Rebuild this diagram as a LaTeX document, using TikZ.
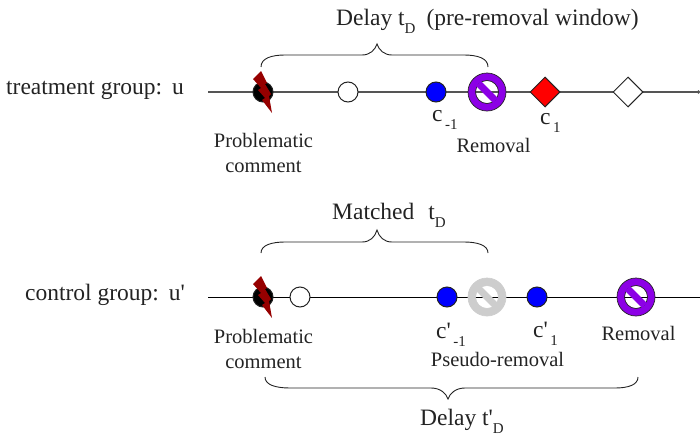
\documentclass[tikz,border=0pt]{standalone}
\usepackage{fontspec}
\setmainfont{Liberation Serif}
\usetikzlibrary{shapes.geometric,arrows.meta}
\definecolor{prohib}{RGB}{140,0,230}
\definecolor{pseudo}{RGB}{205,205,205}
\definecolor{bolt}{RGB}{150,0,0}
\definecolor{ink}{RGB}{35,35,35}
\definecolor{linegray}{RGB}{85,85,85}
\tikzset{
  x=1pt,y=-1pt,
  lbl/.style={font=\fontsize{20.5}{25}\selectfont,text=ink,inner sep=0pt,align=center},
  base/.style={font=\fontsize{20.5}{25}\selectfont,text=ink,inner sep=0pt,anchor=base},
  sm/.style={font=\fontsize{23.5}{26}\selectfont,text=ink,inner sep=0pt,anchor=base west},
  tl/.style={line width=1.3pt,draw=linegray},
  tlb/.style={line width=1pt,draw=black},
  dot/.style={circle,draw=ink,line width=1pt,minimum size=20pt,inner sep=0pt},
  dia/.style={diamond,draw=ink,line width=1pt,minimum size=30pt,inner sep=0pt},
  brc/.style={draw=ink,line width=0.9pt},
}
\newcommand{\sbs}[1]{\raisebox{-8pt}{\fontsize{15}{15}\selectfont #1}}
\newcommand{\nosign}[4]{% name, position, colour, outline
  \node[circle,minimum size=39pt,inner sep=0pt] (#1) at (#2) {};
  \begin{scope}[shift={(#2)}]
    \filldraw[fill=#3,draw=#4,line width=0.7pt,even odd rule] (0,0) circle[radius=19pt] (0,0) circle[radius=11.5pt];
    \fill[#3,rotate=-45] (-12pt,-3.5pt) rectangle (12pt,3.5pt);
  \end{scope}
}
\newcommand{\boltsign}[1]{%
  \fill[bolt,shift={(#1)}] (-2,-21) -- (-10,-13) -- (-2,-4) -- (-5,-2) -- (2,6) -- (-1,8) -- (9,21) -- (6,4) -- (8,2) -- (2,-8) -- (4,-9) -- cycle;
}
\begin{document}
\begin{tikzpicture}
\useasboundingbox (0,0) rectangle (700,436);
% treatment
\node[sm] (tg) at (6,94) {treatment group:\hspace{10pt}u};
\coordinate (a0) at (208,92); \coordinate (a1) at (700,92);
\draw[tl,-{Circle[length=3pt]}] (a0) -- (a1);
\node[dot,fill=black] (ap) at (263,92) {};
\boltsign{ap}
\node[dot,fill=white] (aw) at (348,92) {};
\node[dot,fill=blue] (ab) at (436,92) {};
\nosign{ar}{487,92}{prohib}{ink}
\node[dia,fill=red] (ad) at (545,92) {};
\node[dia,fill=white] (ae) at (628,92) {};
\node[lbl] (apl) at (263.5,153) {Problematic\\comment};
\node[sm] (acm) at (432,121) {c\sbs{\,-1}};
\node[base] (arl) at (493.5,152) {Removal};
\node[sm] (acp) at (540,124) {c\sbs{\,1}};
\node[sm] (atop) at (336,26) {Delay t\sbs{D}\hspace{11pt}(pre-removal window)};
\coordinate (b1l) at (261,67); \coordinate (b1t) at (377,44); \coordinate (b1r) at (488,67);
\draw[brc] (b1l) .. controls (261,58) and (272,55) .. (285,55) -- (362,55) .. controls (370,55) and (375,50) .. (b1t) .. controls (379,50) and (384,55) .. (392,55) -- (464,55) .. controls (477,55) and (488,58) .. (b1r);
% control
\node[sm] (cg) at (25,300) {control group:\hspace{10pt}u\textquotesingle};
\coordinate (c0) at (208,297); \coordinate (c1) at (700,297);
\draw[tlb] (c0) -- (c1);
\node[dot,fill=black] (cp) at (263,297) {};
\boltsign{cp}
\node[dot,fill=white] (cw) at (300,297) {};
\node[dot,fill=blue] (cb) at (447,297) {};
\nosign{cs}{487,297}{pseudo}{pseudo}
\node[dot,fill=blue] (cc) at (537,297) {};
\nosign{cr}{636,297}{prohib}{ink}
\node[lbl] (cpl) at (263.5,349) {Problematic\\comment};
\node[sm] (ccm) at (436,338) {c\textquotesingle\sbs{\,-1}};
\node[base] (csl) at (497.5,366) {Pseudo-removal};
\node[sm] (ccp) at (533,337) {c\textquotesingle\sbs{\,1}};
\node[base] (crl) at (638.5,340) {Removal};
\node[sm] (cmt) at (332,219) {Matched\hspace{14pt}t\sbs{D}};
\node[sm] (cdl) at (420,425) {Delay t\textquotesingle\sbs{D}};
\coordinate (b2l) at (261,253); \coordinate (b2t) at (377,230); \coordinate (b2r) at (488,253);
\draw[brc] (b2l) .. controls (261,245) and (272,242) .. (285,242) -- (362,242) .. controls (370,242) and (375,237) .. (b2t) .. controls (379,237) and (384,242) .. (392,242) -- (464,242) .. controls (477,242) and (488,245) .. (b2r);
\coordinate (b3l) at (265,377); \coordinate (b3t) at (448,399); \coordinate (b3r) at (638,377);
\draw[brc] (b3l) .. controls (265,385) and (276,388) .. (290,388) -- (431,388) .. controls (440,388) and (446,393) .. (b3t) .. controls (450,393) and (456,388) .. (465,388) -- (615,388) .. controls (628,388) and (638,385) .. (b3r);
\end{tikzpicture}
\end{document}
